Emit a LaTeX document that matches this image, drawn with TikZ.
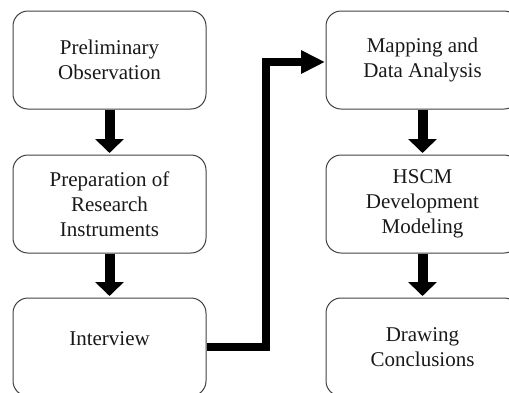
\documentclass[tikz,border=0pt]{standalone}
\usepackage{fontspec}
\setmainfont{Liberation Serif}
\usetikzlibrary{arrows.meta}
\tikzset{
  box/.style={draw=black!75, line width=1pt, rounded corners=15pt, minimum width=193pt, minimum height=98pt, inner sep=0pt, align=center, font=\fontsize{21}{25}\selectfont, text=black!90},
  downarrow/.style={line width=10pt, -{Triangle[length=14pt,width=28pt]}, shorten >=1.5pt},
  elbowarrow/.style={line width=8pt, line join=miter, -{Triangle[length=24pt,width=22pt]}, shorten >=0.5pt}
}
\begin{document}
\begin{tikzpicture}[x=1pt,y=-1pt]
\useasboundingbox (0,0) rectangle (509,392);
\clip (0,0) rectangle (509,392);
\node[box] (a) at (109.5,60) {Preliminary\\Observation};
\node[box] (b) at (109.5,204) {Preparation of\\Research\\Instruments};
\node[box] (c) at (109.5,347) {\raisebox{8pt}[\height][\depth]{Interview}};
\node[box] (d) at (422.5,60) {Mapping and\\Data Analysis};
\node[box] (e) at (422.5,204) {HSCM\\Development\\Modeling};
\node[box] (f) at (422.5,347) {Drawing\\Conclusions};
\coordinate (k1) at (266,347);
\coordinate (k2) at (266,62);
\draw[downarrow] (a.south) -- (b.north);
\draw[downarrow] (b.south) -- (c.north);
\draw[downarrow] (d.south) -- (e.north);
\draw[downarrow] (e.south) -- (f.north);
\draw[elbowarrow] (c.east |- k1) -- (k1) -- (k2) -- (d.west |- k2);
\end{tikzpicture}
\end{document}
